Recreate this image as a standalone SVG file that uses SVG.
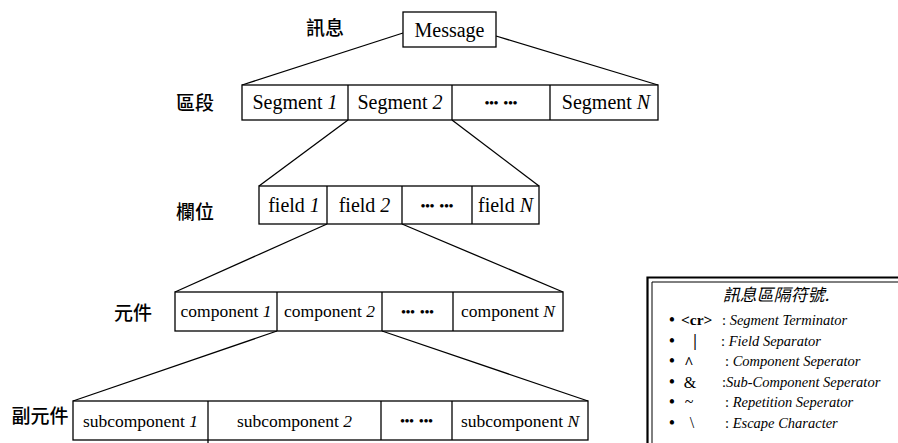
<svg xmlns="http://www.w3.org/2000/svg" width="898" height="443" viewBox="0 0 898 443">
<style>
.box{fill:#fff;stroke:#000;stroke-width:1.3}
.div{stroke:#000;stroke-width:1.3}
.con{stroke:#000;stroke-width:1.3;fill:none}
.t20{font-family:"Liberation Serif",serif;font-size:20px;text-anchor:middle;fill:#000}
.t17{font-family:"Liberation Serif",serif;font-size:17.5px;text-anchor:middle;fill:#000}
.dots{font-family:"Liberation Serif",serif;font-size:13px;font-weight:bold;text-anchor:middle;fill:#000;word-spacing:2px}
.zh{font-family:"Noto Sans CJK TC","Noto Sans CJK SC",sans-serif;font-size:19px;font-weight:500;text-anchor:middle;fill:#000}
.lg{font-family:"Liberation Serif",serif;font-size:14.5px;font-style:italic;fill:#000}
.sym{font-family:"Liberation Serif",serif;font-size:16px;fill:#000;text-anchor:middle}
</style>
<rect width="898" height="443" fill="#fff"/>
<g id="connectors">
<line class="con" x1="403" y1="33" x2="242" y2="85"/>
<line class="con" x1="496" y1="36" x2="658" y2="85"/>
<line class="con" x1="348" y1="120" x2="259" y2="186"/>
<line class="con" x1="452" y1="120" x2="539" y2="186"/>
<line class="con" x1="327" y1="224" x2="175" y2="292"/>
<line class="con" x1="402" y1="224" x2="563" y2="292"/>
<line class="con" x1="277" y1="331" x2="73" y2="401"/>
<line class="con" x1="382" y1="331" x2="588" y2="401"/>
</g>
<g id="labels">
<text class="zh" x="325" y="35">訊息</text>
<text class="zh" x="195" y="110">區段</text>
<text class="zh" x="195" y="219">欄位</text>
<text class="zh" x="133" y="320">元件</text>
<text class="zh" x="40" y="423">副元件</text>
</g>
<g id="message">
<rect class="box" x="403" y="12" width="93" height="35"/>
<text class="t20" x="449.5" y="37">Message</text>
</g>
<g id="segments">
<rect class="box" x="242" y="85" width="416" height="35"/>
<line class="div" x1="348" y1="85" x2="348" y2="120"/>
<line class="div" x1="452" y1="85" x2="452" y2="120"/>
<line class="div" x1="550" y1="85" x2="550" y2="120"/>
<text class="t20" x="295" y="109">Segment <tspan font-style="italic">1</tspan></text>
<text class="t20" x="400" y="109">Segment <tspan font-style="italic">2</tspan></text>
<text class="dots" x="501" y="107">••• •••</text>
<text class="t20" x="606" y="109">Segment <tspan font-style="italic">N</tspan></text>
</g>
<g id="fields">
<rect class="box" x="259" y="186" width="280" height="38"/>
<line class="div" x1="327" y1="186" x2="327" y2="224"/>
<line class="div" x1="402" y1="186" x2="402" y2="224"/>
<line class="div" x1="472" y1="186" x2="472" y2="224"/>
<text class="t20" x="294" y="212">field <tspan font-style="italic">1</tspan></text>
<text class="t20" x="364.5" y="212">field <tspan font-style="italic">2</tspan></text>
<text class="dots" x="437" y="210">••• •••</text>
<text class="t20" x="505.5" y="212">field <tspan font-style="italic">N</tspan></text>
</g>
<g id="components">
<rect class="box" x="175" y="292" width="388" height="39"/>
<line class="div" x1="277" y1="292" x2="277" y2="331"/>
<line class="div" x1="382" y1="292" x2="382" y2="331"/>
<line class="div" x1="453" y1="292" x2="453" y2="331"/>
<text class="t17" x="226" y="317">component <tspan font-style="italic">1</tspan></text>
<text class="t17" x="329.5" y="317">component <tspan font-style="italic">2</tspan></text>
<text class="dots" x="417.5" y="316">••• •••</text>
<text class="t17" x="508" y="317">component <tspan font-style="italic">N</tspan></text>
</g>
<g id="subcomponents">
<rect class="box" x="73" y="401" width="515" height="39"/>
<line class="div" x1="208" y1="401" x2="208" y2="443"/>
<line class="div" x1="381" y1="401" x2="381" y2="440"/>
<line class="div" x1="452" y1="401" x2="452" y2="440"/>
<text class="t17" x="140.5" y="427">subcomponent <tspan font-style="italic">1</tspan></text>
<text class="t17" x="294.5" y="427">subcomponent <tspan font-style="italic">2</tspan></text>
<text class="dots" x="416.5" y="425">••• •••</text>
<text class="t17" x="520" y="427">subcomponent <tspan font-style="italic">N</tspan></text>
</g>
<g id="legend">
<path d="M647.5 450 V277.5 H900" fill="none" stroke="#000" stroke-width="2.2"/>
<path d="M652 450 V282 H900" fill="none" stroke="#000" stroke-width="1"/>
<text x="776" y="301" text-anchor="middle" font-family="Noto Sans CJK TC,Noto Sans CJK SC,sans-serif" font-size="17" font-style="italic">訊息區隔符號.</text>
<g font-family="Liberation Serif,serif" font-size="18px">
<text x="672" y="326" text-anchor="middle">•</text>
<text x="672" y="347" text-anchor="middle">•</text>
<text x="672" y="367" text-anchor="middle">•</text>
<text x="672" y="388" text-anchor="middle">•</text>
<text x="672" y="408" text-anchor="middle">•</text>
<text x="672" y="429" text-anchor="middle">•</text>
</g>
<text x="681" y="325" font-family="Liberation Serif,serif" font-size="15.5" font-weight="bold">&lt;cr&gt;</text>
<text class="sym" x="695" y="346" font-weight="bold">|</text>
<text class="sym" x="689" y="368" font-weight="bold">^</text>
<text class="sym" x="690" y="388" font-size="18">&amp;</text>
<text class="sym" x="689" y="407">~</text>
<text class="sym" x="692" y="428">\</text>
<text class="lg" x="722" y="325"><tspan font-style="normal">: </tspan>Segment Terminator</text>
<text class="lg" x="721" y="346"><tspan font-style="normal">: </tspan>Field Separator</text>
<text class="lg" x="725" y="366"><tspan font-style="normal">: </tspan>Component Seperator</text>
<text class="lg" x="722" y="387"><tspan font-style="normal">:</tspan>Sub-Component Seperator</text>
<text class="lg" x="725" y="407"><tspan font-style="normal">: </tspan>Repetition Seperator</text>
<text class="lg" x="725" y="428"><tspan font-style="normal">: </tspan>Escape Character</text>
</g>
</svg>
